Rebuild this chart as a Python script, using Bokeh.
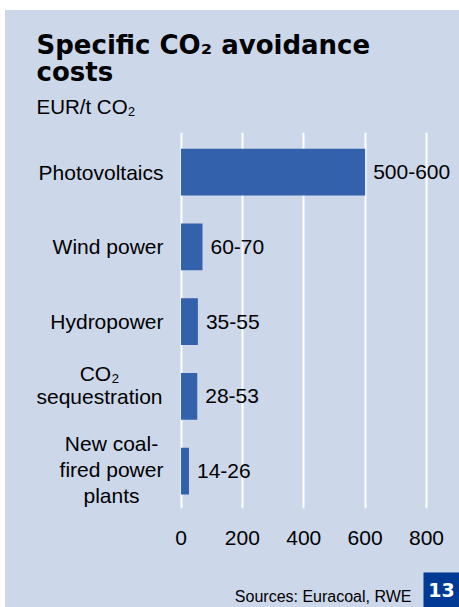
from bokeh.plotting import figure
from bokeh.models import Range1d, FixedTicker, Label, ColumnDataSource, Spacer
from bokeh.layouts import column, row
from bokeh.core.properties import value
from bokeh.embed import file_html
from bokeh.resources import INLINE

# ---- data ----
categories = ["Photovoltaics", "Wind power", "Hydropower",
              "CO₂\nsequestration", "New coal-\nfired power\nplants"]
low = [500, 60, 35, 28, 14]
high = [600, 70, 55, 53, 26]
x_ticks = [0, 200, 400, 600, 800]
title_text = "Specific CO₂ avoidance\ncosts"
subtitle_text = "EUR/t CO₂"
source_text = "Sources: Euracoal, RWE"
page_no = "13"

# ---- style ----
PANEL = "#CCD7EA"
BAR = "#3461AB"
BOX = "#003A94"
FONT = "Liberation Sans"
TITLE_FONT = "DejaVu Sans"
FS = "21px"

OX, OY = 5, 10                 # panel offset on the page
W = 459 - OX                   # panel width
HEAD_H = 132 - OY              # header strip (page y 10..132)
MAIN_H = 560 - 132             # chart (page y 132..560)
FOOT_H = 607 - 560             # footer strip (page y 560..607)
FRAME_H = 508 - 132            # plot frame height (page y 132..508)
PX_PER_UNIT = 0.3069
ZERO_X = 180.5 - OX            # figure px of x = 0
ROW = 74.75
FIRST_ROW = 171.7 - 132        # px from frame top to first bar centre

x_start = -ZERO_X / PX_PER_UNIT
x_end = (W - ZERO_X) / PX_PER_UNIT
y_top = -FIRST_ROW / ROW
y_bottom = y_top + FRAME_H / ROW


def xd(px):  # page x -> data x
    return (px - OX - ZERO_X) / PX_PER_UNIT


def strip(h):
    f = figure(width=W, height=h, output_backend="svg", toolbar_location=None,
               x_range=Range1d(0, W), y_range=Range1d(h, 0),
               min_border=0)
    f.axis.visible = False
    f.grid.visible = False
    f.background_fill_color = PANEL
    f.border_fill_color = PANEL
    f.outline_line_color = None
    return f


# ---- header ----
head = strip(HEAD_H)
head.add_layout(Label(x=36 - OX, y=29 - OY, text=title_text, text_align="left",
                      text_baseline="top", text_font=TITLE_FONT,
                      text_font_style="bold", text_font_size="26px",
                      text_color="black", text_line_height=0.9))
head.add_layout(Label(x=36 - OX, y=106 - OY, text=subtitle_text,
                      text_align="left", text_baseline="alphabetic",
                      text_font=FONT, text_font_size="20.5px",
                      text_color="black"))

# ---- main chart ----
p = figure(width=W, height=MAIN_H, output_backend="svg", toolbar_location=None,
           x_range=Range1d(x_start, x_end), y_range=Range1d(y_bottom, y_top),
           min_border_left=0, min_border_right=0, min_border_top=0,
           min_border_bottom=MAIN_H - FRAME_H)
p.background_fill_color = PANEL
p.border_fill_color = PANEL
p.outline_line_color = None

ypos = list(range(len(categories)))
src = ColumnDataSource(dict(y=ypos, right=high,
                            label=[f"{a}-{b}" for a, b in zip(low, high)]))
p.hbar(y="y", left=0, right="right", height=0.625, fill_color=BAR,
       line_color=None, source=src)
p.text(x="right", y="y", text="label", x_offset=8, text_baseline="middle",
       text_align="left", text_font=value(FONT), text_font_size=FS,
       text_color="black", source=src)

# category labels (single-line right-aligned, multi-line centred)
LABEL_CENTER = {3: 99, 4: 111}
LABEL_DY = {3: -11, 4: -2}
LABEL_LH = {3: 1.0, 4: 1.13}
single = [i for i in ypos if i not in LABEL_CENTER]
p.text(x=[xd(163)] * len(single), y=single, text=[categories[i] for i in single],
       text_align="right", text_baseline="middle", text_font=value(FONT),
       text_font_size=FS, text_color="black")
for i in LABEL_CENTER:
    p.text(x=[xd(LABEL_CENTER[i])], y=[i], text=[categories[i]],
           y_offset=LABEL_DY[i], text_align="center", text_baseline="middle",
           text_font=value(FONT), text_font_size=FS, text_color="black",
           text_line_height=LABEL_LH[i])

# axes / grid
p.yaxis.visible = False
p.ygrid.visible = False
p.xaxis.ticker = FixedTicker(ticks=x_ticks)
p.xgrid.ticker = FixedTicker(ticks=x_ticks)
p.xgrid.grid_line_color = "white"
p.xgrid.grid_line_width = 2
p.xaxis.axis_line_color = None
p.xaxis.major_tick_line_color = None
p.xaxis.minor_tick_line_color = None
p.xaxis.major_label_text_font = FONT
p.xaxis.major_label_text_font_size = FS
p.xaxis.major_label_text_color = "black"
p.xaxis.major_label_standoff = 16

# ---- footer ----
foot = strip(FOOT_H)
foot.add_layout(Label(x=411 - OX, y=596 - 560, text=source_text,
                      text_align="right", text_baseline="alphabetic",
                      text_font=FONT, text_font_size="16px",
                      text_color="black"))
foot.quad(left=423 - OX, right=W, top=572 - 560, bottom=FOOT_H,
          fill_color=BOX, line_color=None)
foot.add_layout(Label(x=441 - OX, y=589.5 - 560, text=page_no,
                      text_align="center", text_baseline="middle",
                      text_font=TITLE_FONT, text_font_style="bold",
                      text_font_size="19px", text_color="white"))

white = {"background-color": "white"}
panel = column(head, p, foot, styles={"background-color": PANEL})
layout = column(Spacer(height=OY, width=459, styles=white),
                row(Spacer(width=OX, height=W, styles=white), panel),
                styles=white)
open("out.html", "w").write(file_html(layout, INLINE))
